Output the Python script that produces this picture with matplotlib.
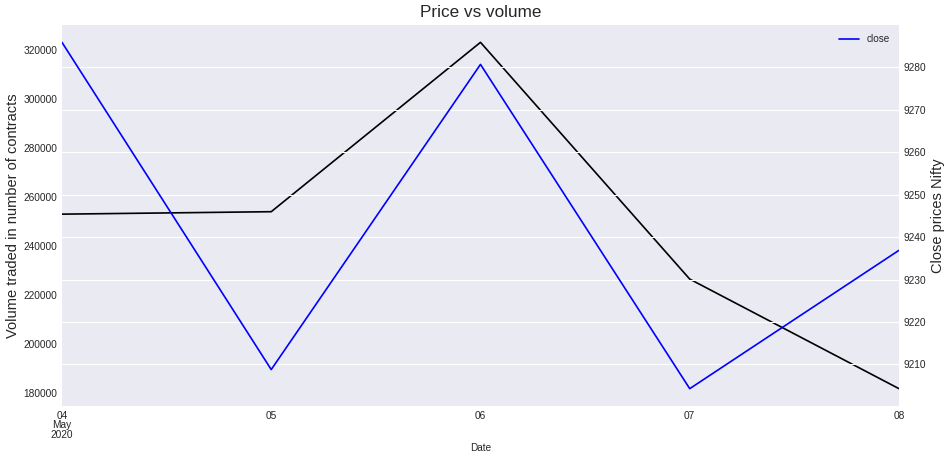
import matplotlib
matplotlib.use('Agg')
import matplotlib.pyplot as plt
import pandas as pd

plt.style.use('seaborn-v0_8-darkgrid')
plt.rcParams['font.family'] = ['Liberation Sans', 'DejaVu Sans']

# Данные
dates = pd.to_datetime(['2020-05-04', '2020-05-05', '2020-05-06', '2020-05-07', '2020-05-08'])
volume = [253000, 254000, 323100, 226500, 181800]
close = [9285.9, 9208.8, 9280.7, 9204.3, 9236.9]

fig = plt.figure(figsize=(9.49, 4.59), dpi=100)
ax = fig.add_axes([0.0653, 0.1155, 0.882, 0.830])

ax.plot(dates, volume, color='black', linewidth=1.2)
ax.grid(False)
ax.set_xlim(dates[0], dates[-1])
ax.set_ylabel('Volume traded in number of contracts', fontsize=10.5, labelpad=2)
ax.set_xlabel('Date', fontsize=7.2, labelpad=2)
ax.set_title('Price vs volume', fontsize=12.3)
ax.tick_params(axis='both', labelsize=7.3, length=0)

# Подписи дат как в pandas
ax.set_xticks(dates)
labels = [d.strftime('%d') for d in dates]
labels[0] = dates[0].strftime('%d\n%b\n%Y')
ax.set_xticklabels(labels, linespacing=0.95)

ax2 = ax.twinx()
ax2.plot(dates, close, color='blue', linewidth=1.2, label='close')
ax2.grid(False)
ax2.yaxis.grid(True, color='white', linewidth=0.8)
ax2.set_ylabel('Close prices Nifty', fontsize=10.5, labelpad=3)
ax2.tick_params(axis='both', labelsize=7.3, length=0)
ax2.legend(loc='upper right', fontsize=7.2, frameon=False)

fig.savefig('out.png', dpi=100)
